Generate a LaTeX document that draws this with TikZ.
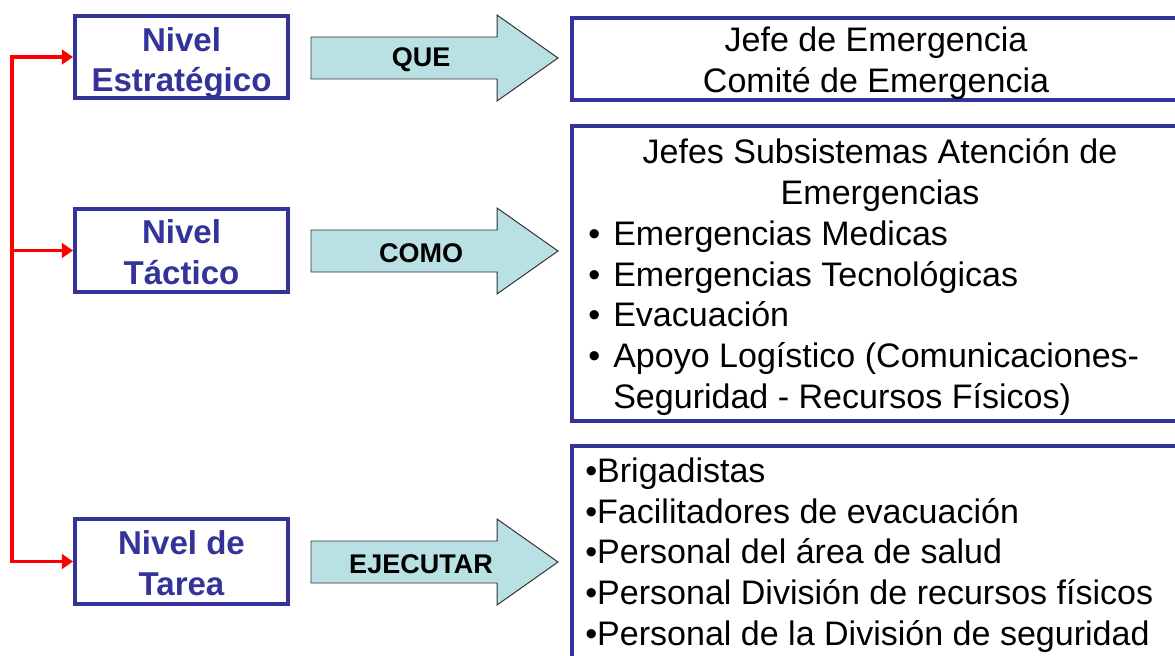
\documentclass[tikz,border=0pt]{standalone}
\usepackage{fontspec}
\setmainfont{Liberation Sans}
\usetikzlibrary{arrows.meta}
\definecolor{nivelblue}{HTML}{333399}
\definecolor{armfill}{HTML}{B9E0E2}

\begin{document}
\begin{tikzpicture}[x=0.025cm, y=-0.025cm,
    levelbox/.style={draw=nivelblue, line width=2.8pt, inner sep=0pt, minimum width=5.325cm},
    leveltext/.style={text=nivelblue, align=center, inner sep=0pt, font=\fontsize{23.5}{29}\selectfont\bfseries},
    listbox/.style={draw=nivelblue, line width=2.8pt, anchor=north west, inner sep=0pt, minimum width=15.375cm},
    listtext/.style={inner sep=0pt, font=\fontsize{24.2}{29}\selectfont},
    bigarrow/.style={draw=black!80, line width=0.7pt, fill=armfill},
    armtext/.style={font=\fontsize{19.2}{22}\selectfont\bfseries},
    redlink/.style={draw=red, line width=2.8pt}]
        \useasboundingbox (0,0) rectangle (1175,656);

        % The levels
        \node[levelbox, minimum height=2.05cm] (strat) at (181.5,57) {};
        \node[levelbox, minimum height=2.075cm] (tact) at (181.5,250.5) {};
        \node[levelbox, minimum height=2.125cm] (tarea) at (181.5,561.5) {};
        \node[leveltext] (strattxt) at (181.5,63) {Nivel\\Estratégico};
        \node[leveltext] (tacttxt) at (181.5,252.5) {Nivel\\Táctico};
        \node[leveltext] (tareatxt) at (181.5,563) {Nivel de\\Tarea};

        % The red bus on the left
        \coordinate (bustop) at (12,57);
        \coordinate (busmid) at (bustop |- tact.west);
        \draw[redlink, {Triangle[length=8pt,width=10.5pt]}-{Triangle[length=8pt,width=10.5pt]}]
            (tarea.west) -| (bustop) -- (strat.west);
        \draw[redlink, -{Triangle[length=8pt,width=10.5pt]}] (busmid) -- (tact.west);

        % The big arrows
        \foreach \yc/\word/\nm in {58/QUE/que, 251/COMO/como, 562/EJECUTAR/ejecutar} {
            \draw[bigarrow] (311,\yc-21) -- (497,\yc-21) -- (497,\yc-43) -- (558,\yc)
                -- (497,\yc+43) -- (497,\yc+21) -- (311,\yc+21) -- cycle;
            \node[armtext] (\nm) at (421,\yc+2) {\word};
        }

        % The boxes on the right
        \node[listbox, minimum height=2.05cm] (jefe) at (570,16) {};
        \node[listbox, minimum height=7.375cm] (subsis) at (570,124) {};
        \node[listbox, minimum height=5.65cm] (brig) at (570,444) {};

        \node[listtext, align=center] (jefetxt) at (876,63) {Jefe de Emergencia\\Comité de Emergencia};
        \node[listtext, align=center] (subhead) at (880,175) {Jefes Subsistemas Atención de\\Emergencias};
        \node[listtext, align=left, anchor=west] (subitems) at (588,318)
            {\makebox[0.625cm][l]{•}Emergencias Medicas\\\makebox[0.625cm][l]{•}Emergencias Tecnológicas\\
             \makebox[0.625cm][l]{•}Evacuación\\\makebox[0.625cm][l]{•}Apoyo Logístico (Comunicaciones-\\
             \hspace*{0.625cm}Seguridad - Recursos Físicos)};
        \node[listtext, align=left, anchor=west] (brigitems) at (585,555)
            {•Brigadistas\\•Facilitadores de evacuación\\•Personal del área de salud\\
             •Personal División de recursos físicos\\•Personal de la División de seguridad};
    \end{tikzpicture}
\end{document}
